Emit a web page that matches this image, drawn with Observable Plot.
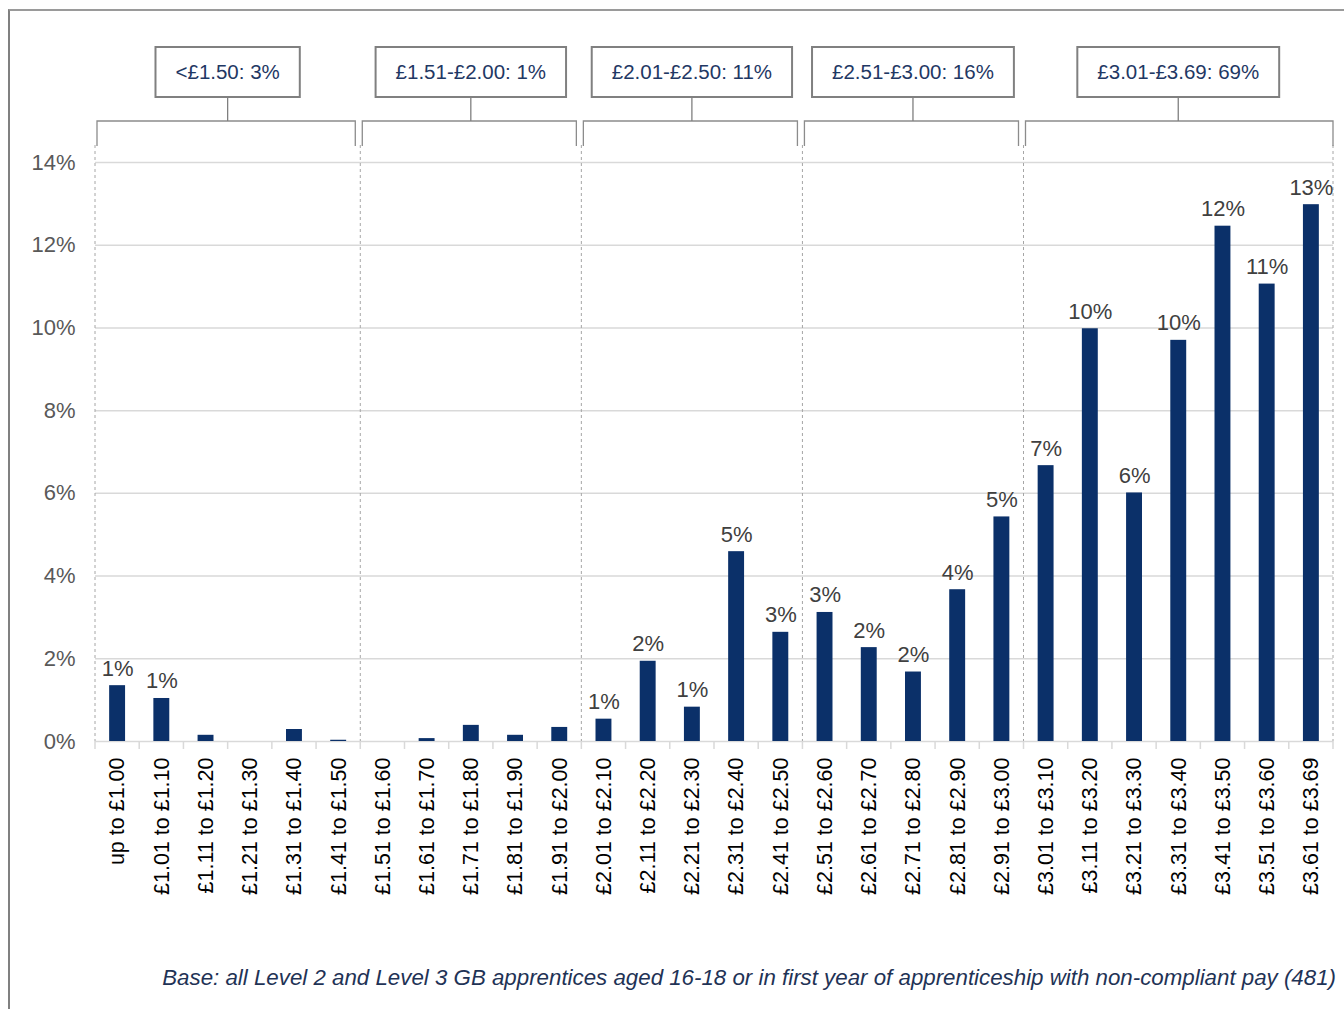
<!DOCTYPE html>
<html><head><meta charset="utf-8">
<script src="https://cdn.jsdelivr.net/npm/d3@7"></script>
<script src="https://cdn.jsdelivr.net/npm/@observablehq/plot@0.6"></script>
<style>
body{margin:0;background:#fff;font-family:"Liberation Sans",Arial,sans-serif;overflow:hidden;}
#frame{position:absolute;left:8px;top:9px;width:1400px;height:1100px;border-left:2px solid #808080;border-top:2px solid #9a9a9a;}
#chart{position:absolute;left:0;top:0;}
#note{position:absolute;right:8px;top:965px;font-size:22.3px;font-style:italic;color:#1f3356;white-space:nowrap;}
</style></head><body>
<div id="frame"></div><div id="chart"></div><div id="note"></div>
<script>
const categories = ["up to £1.00","£1.01 to £1.10","£1.11 to £1.20","£1.21 to £1.30","£1.31 to £1.40","£1.41 to £1.50","£1.51 to £1.60","£1.61 to £1.70","£1.71 to £1.80","£1.81 to £1.90","£1.91 to £2.00","£2.01 to £2.10","£2.11 to £2.20","£2.21 to £2.30","£2.31 to £2.40","£2.41 to £2.50","£2.51 to £2.60","£2.61 to £2.70","£2.71 to £2.80","£2.81 to £2.90","£2.91 to £3.00","£3.01 to £3.10","£3.11 to £3.20","£3.21 to £3.30","£3.31 to £3.40","£3.41 to £3.50","£3.51 to £3.60","£3.61 to £3.69"];
const values = [1.35,1.04,0.15,0,0.29,0.03,0,0.07,0.39,0.15,0.34,0.54,1.94,0.83,4.59,2.64,3.12,2.27,1.68,3.67,5.43,6.67,9.98,6.01,9.70,12.46,11.06,12.98];
const valueLabels = ["1%","1%",null,null,null,null,null,null,null,null,null,"1%","2%","1%","5%","3%","3%","2%","2%","4%","5%","7%","10%","6%","10%","12%","11%","13%"];
const groupNames = ["<£1.50: 3%","£1.51-£2.00: 1%","£2.01-£2.50: 11%","£2.51-£3.00: 16%","£3.01-£3.69: 69%"];
const groupFirst = ["up to £1.00","£1.51 to £1.60","£2.01 to £2.10","£2.51 to £2.60","£3.01 to £3.10"];
const groupLast = ["£1.41 to £1.50","£1.91 to £2.00","£2.41 to £2.50","£2.91 to £3.00","£3.61 to £3.69"];
const yTicks = [0,2,4,6,8,10,12,14];
const footnote = "Base: all Level 2 and Level 3 GB apprentices aged 16-18 or in first year of apprenticeship with non-compliant pay (481)";

const data = categories.map((c, i) => ({cat: c, value: values[i], label: valueLabels[i]}));

function annotations(index, scales, vals, dimensions) {
  const x = scales.x;
  const bw = x.bandwidth();
  const step = x.step();
  const left = c => x(c) + bw / 2 - step / 2;
  const right = c => x(c) + bw / 2 + step / 2;
  const top = dimensions.marginTop;
  const bottom = dimensions.height - dimensions.marginBottom;
  const g = d3.create("svg:g");
  const edges = categories.map(left).concat([right(categories[categories.length - 1])]);
  edges.forEach(e => g.append("line").attr("x1", e).attr("x2", e).attr("y1", bottom).attr("y2", bottom + 8)
    .attr("stroke", "#d9d9d9").attr("stroke-width", 1.5));
  const seps = groupFirst.map(left).concat([right(groupLast[groupLast.length - 1])]);
  seps.forEach(e => g.append("line").attr("x1", e).attr("x2", e).attr("y1", top - 17).attr("y2", bottom)
    .attr("stroke", "#a6a6a6").attr("stroke-dasharray", "3,3").attr("stroke-width", 1));
  groupNames.forEach((name, i) => {
    const x1 = left(groupFirst[i]) + 2;
    const x2 = right(groupLast[i]) - (i === groupNames.length - 1 ? 0 : 5);
    const cx = (left(groupFirst[i]) + right(groupLast[i])) / 2;
    const by = top - 41;
    g.append("path").attr("d", `M${x1},${top - 16}V${by}H${x2}V${top - 16}`)
      .attr("fill", "none").attr("stroke", "#8c8c8c").attr("stroke-width", 1.3);
    g.append("line").attr("x1", cx).attr("x2", cx).attr("y1", top - 65).attr("y2", by)
      .attr("stroke", "#7f7f7f").attr("stroke-width", 1.3);
    const bx = g.append("g").attr("class", "annbox").attr("transform", `translate(${cx},${top - 90})`);
    bx.append("rect").attr("y", -25).attr("height", 50).attr("fill", "#fff").attr("stroke", "#808080").attr("stroke-width", 2);
    bx.append("text").attr("text-anchor", "middle").attr("dy", "0.36em").attr("font-size", 20.5)
      .attr("fill", "#1f3864").text(name);
  });
  return g.node();
}

const chart = Plot.plot({
  width: 1344,
  height: 1009,
  marginLeft: 95,
  marginRight: 11,
  marginTop: 162,
  marginBottom: 268,
  style: {fontFamily: "Liberation Sans, Arial, sans-serif", fontSize: "19px", overflow: "visible", background: "transparent"},
  x: {domain: categories, paddingInner: 0.64, paddingOuter: 0.32, round: false, label: null},
  y: {domain: [0, 14], label: null},
  marks: [
    Plot.gridY({ticks: yTicks, stroke: "#d9d9d9", strokeOpacity: 1, strokeWidth: 1.5}),
    Plot.axisY({ticks: yTicks, tickFormat: d => d + "%", tickSize: 0, tickPadding: 20, fontSize: 22, fill: "#595959", label: null}),
    Plot.axisX({tickRotate: -90, tickSize: 0, tickPadding: 16, fontSize: 21.5, fill: "#000", label: null}),
    annotations,
    Plot.barY(data, {x: "cat", y: "value", fill: "#0b3069"}),
    Plot.text(data.filter(d => d.label), {x: "cat", y: "value", text: "label", dy: -10, lineAnchor: "bottom", fontSize: 22, fill: "#404040"})
  ]
});
document.getElementById("chart").append(chart);
document.querySelectorAll(".annbox").forEach(b => {
  const t = b.querySelector("text");
  const w = t.getComputedTextLength() + 40;
  const r = b.querySelector("rect");
  r.setAttribute("x", -w / 2);
  r.setAttribute("width", w);
});
document.getElementById("note").textContent = footnote;
</script>
</body></html>
